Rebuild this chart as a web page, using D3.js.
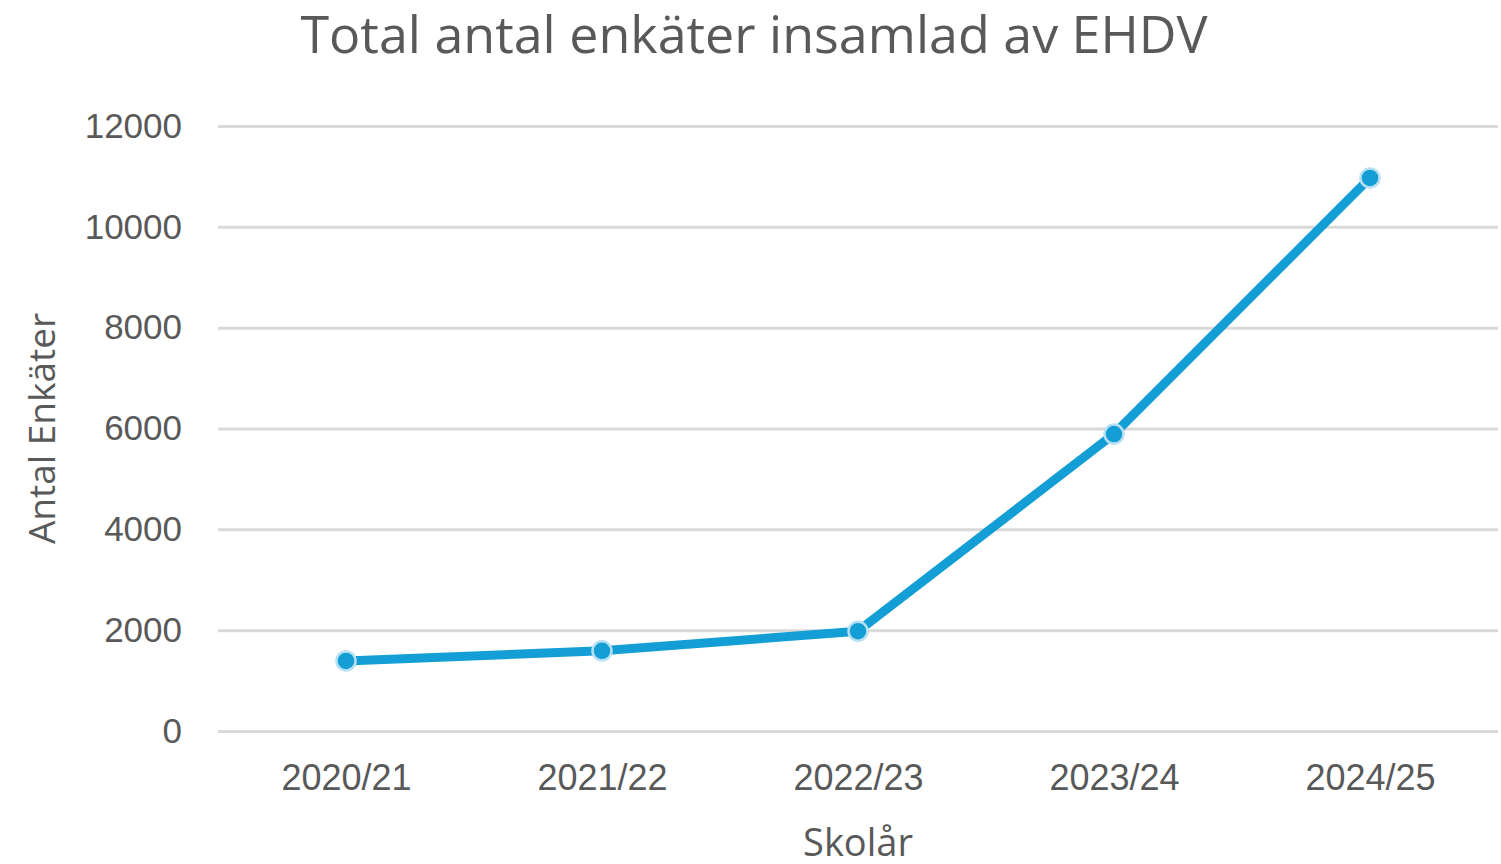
<!DOCTYPE html>
<html lang="sv">
  <head>
    <meta charset="UTF-8" />
    <title>Total antal enkäter insamlad av EHDV</title>
    <style>
      body { margin: 0; background: #fff; }
    </style>
  </head>
  <body>
    <svg width="1501" height="864"></svg>

    <script src="https://d3js.org/d3.v7.min.js"></script>
    <script>
      const years = ["2020/21", "2021/22", "2022/23", "2023/24", "2024/25"];
      const surveys = [1390, 1590, 1980, 5890, 10970];
      const yTicks = [0, 2000, 4000, 6000, 8000, 10000, 12000];

      const svg = d3.select("svg");
      const margin = { top: 126, right: 3, bottom: 133, left: 218 };
      const width = +svg.attr("width");
      const height = +svg.attr("height");

      const x = d3
        .scalePoint()
        .domain(years)
        .range([margin.left, width - margin.right])
        .padding(0.5);

      const y = d3
        .scaleLinear()
        .domain([0, 12000])
        .range([height - margin.bottom, margin.top]);

      const grey = "#595959";

      // gridlines + y labels
      const yAxis = svg
        .append("g")
        .attr("transform", `translate(${margin.left},0)`)
        .call(
          d3
            .axisLeft(y)
            .tickValues(yTicks)
            .tickSize(-(width - margin.left - margin.right))
            .tickPadding(36)
            .tickFormat(d3.format("d"))
        );
      yAxis.select(".domain").remove();
      yAxis.selectAll("line").attr("stroke", "#d9d9d9").attr("stroke-width", 3);
      yAxis
        .selectAll("text")
        .attr("fill", grey)
        .style("font-family", "'Liberation Sans', Arial, sans-serif")
        .style("font-size", "35px");

      // x labels
      const xAxis = svg
        .append("g")
        .attr("transform", `translate(0,${height - margin.bottom})`)
        .call(d3.axisBottom(x).tickSize(0).tickPadding(33));
      xAxis.select(".domain").remove();
      xAxis
        .selectAll("text")
        .attr("fill", grey)
        .style("font-family", "'Liberation Sans', Arial, sans-serif")
        .style("font-size", "36px");

      const color = "#139fd6";

      const line = d3
        .line()
        .x((d, i) => x(years[i]))
        .y((d) => y(d));

      svg
        .append("path")
        .datum(surveys)
        .attr("d", line)
        .attr("fill", "none")
        .attr("stroke", color)
        .attr("stroke-width", 9)
        .attr("stroke-linejoin", "round")
        .attr("stroke-linecap", "round");

      svg
        .selectAll(".dot")
        .data(surveys)
        .join("circle")
        .attr("class", "dot")
        .attr("cx", (d, i) => x(years[i]))
        .attr("cy", (d) => y(d))
        .attr("r", 9.5)
        .attr("fill", color)
        .attr("stroke", "#b8e0f2")
        .attr("stroke-width", 2.5);

      // title
      svg
        .append("text")
        .attr("x", 754)
        .attr("y", 53)
        .attr("text-anchor", "middle")
        .attr("fill", grey)
        .style("font-family", "'Open Sans', 'Noto Sans', sans-serif")
        .style("font-size", "52px")
        .text("Total antal enkäter insamlad av EHDV");

      // axis titles
      svg
        .append("text")
        .attr("transform", `translate(55,${(y(0) + y(12000)) / 2}) rotate(-90)`)
        .attr("text-anchor", "middle")
        .attr("fill", grey)
        .style("font-family", "'Open Sans', 'Noto Sans', sans-serif")
        .style("font-size", "37px")
        .text("Antal Enkäter");

      svg
        .append("text")
        .attr("x", (margin.left + width - margin.right) / 2)
        .attr("y", 856)
        .attr("text-anchor", "middle")
        .attr("fill", grey)
        .style("font-family", "'Open Sans', 'Noto Sans', sans-serif")
        .style("font-size", "38px")
        .text("Skolår");
    </script>
  </body>
</html>
